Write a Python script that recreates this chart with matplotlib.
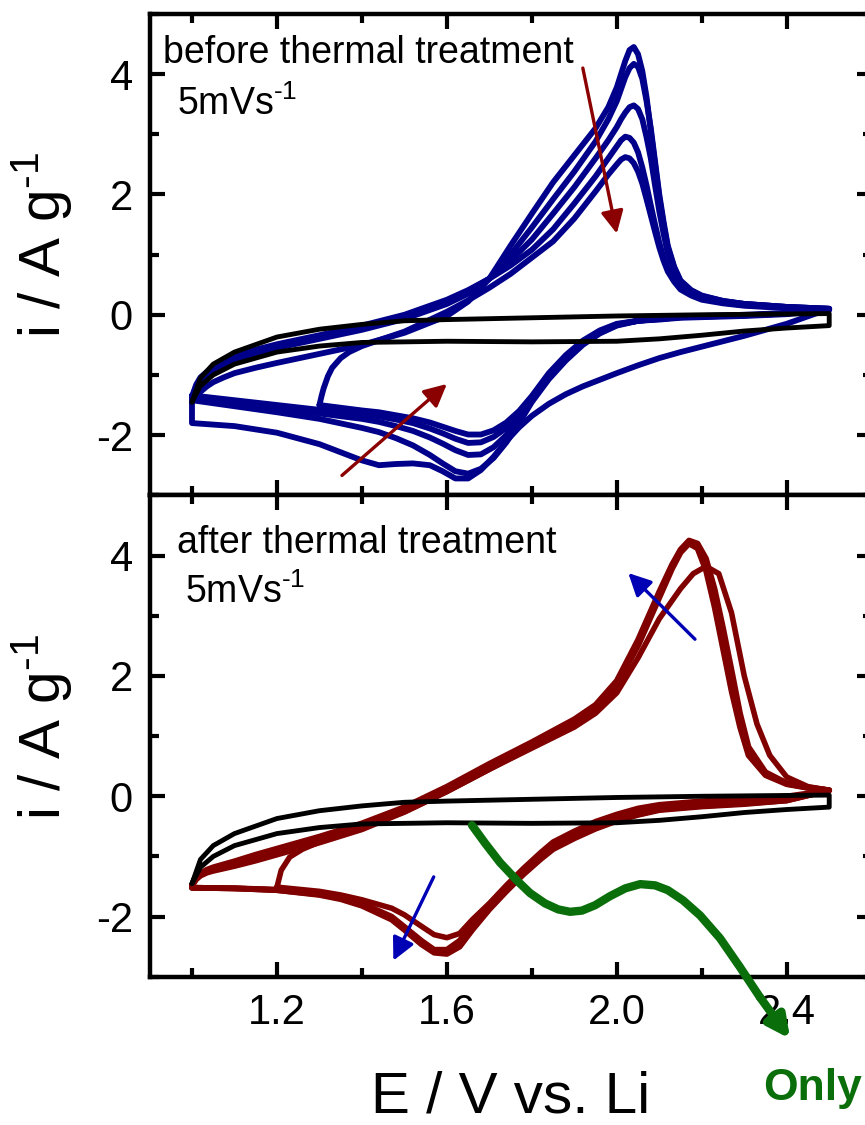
import matplotlib
matplotlib.use("Agg")
import matplotlib.pyplot as plt
from matplotlib.ticker import MultipleLocator

plt.rcParams['font.family'] = ['Liberation Sans', 'DejaVu Sans']
plt.rcParams['mathtext.fontset'] = 'custom'
plt.rcParams['mathtext.rm'] = 'Liberation Sans'
plt.rcParams['mathtext.default'] = 'regular'
plt.rcParams['axes.unicode_minus'] = False

BLUE = '#00008b'
RED = '#800000'
GREEN = '#0a6e0a'

# ---- top panel: before thermal treatment (5 cycles, A..E) ----
xa_low = [1.0, 1.01, 1.02, 1.035, 1.05, 1.075, 1.1, 1.15, 1.2, 1.3, 1.4, 1.5, 1.6, 1.65,
          1.7, 1.75, 1.8, 1.85, 1.9]
xa_peak = [1.95, 1.98, 2.0, 2.01, 2.02, 2.03, 2.04, 2.05, 2.06, 2.07, 2.08, 2.09, 2.1, 2.11,
           2.12, 2.135, 2.15, 2.175, 2.2, 2.25, 2.3, 2.4, 2.5]
xa_top = xa_low + xa_peak
xc_top = [2.5, 2.4, 2.3, 2.2, 2.15, 2.1, 2.05, 2.0, 1.96, 1.92, 1.88, 1.84, 1.8, 1.77, 1.74,
          1.71, 1.68, 1.65, 1.62, 1.59, 1.56, 1.52, 1.48, 1.44, 1.4, 1.3, 1.2, 1.1, 1.0]

A_an = [-1.45, -1.35, -1.28, -1.19, -1.12, -1.04, -0.97, -0.88, -0.8, -0.65, -0.5, -0.3, -0.02,
        0.22, 0.6, 1.15, 1.68, 2.2, 2.65,
        3.1, 3.45, 3.78, 4.0, 4.22, 4.4, 4.45, 4.33, 4.05, 3.62, 3.05, 2.5, 1.95, 1.5,
        1.12, 0.78, 0.55, 0.4, 0.31, 0.23, 0.18, 0.13, 0.1]
B_an = [-1.4, -1.22, -1.1, -1.01, -0.95, -0.85, -0.76, -0.64, -0.55, -0.4, -0.25, -0.07, 0.18,
        0.35, 0.6, 1.0, 1.45, 1.92, 2.38,
        2.88, 3.25, 3.55, 3.75, 3.95, 4.1, 4.17, 4.12, 3.92, 3.55, 3.1, 2.55, 2.0, 1.55,
        1.15, 0.8, 0.57, 0.41, 0.32, 0.23, 0.18, 0.13, 0.1]
C_an = [-1.38, -1.19, -1.07, -0.98, -0.92, -0.82, -0.73, -0.61, -0.52, -0.37, -0.21, -0.03, 0.22,
        0.39, 0.6, 0.9, 1.25, 1.68, 2.12,
        2.6, 2.9, 3.12, 3.25, 3.36, 3.45, 3.48, 3.42, 3.25, 2.95, 2.6, 2.15, 1.72, 1.35,
        1.02, 0.73, 0.53, 0.39, 0.3, 0.22, 0.18, 0.13, 0.1]
D_an = [-1.36, -1.16, -1.04, -0.95, -0.89, -0.79, -0.7, -0.58, -0.49, -0.34, -0.18, 0.0, 0.25,
        0.41, 0.6, 0.82, 1.08, 1.42, 1.85,
        2.3, 2.6, 2.8, 2.9, 2.96, 2.94, 2.86, 2.7, 2.45, 2.15, 1.82, 1.5, 1.2, 0.95,
        0.78, 0.58, 0.45, 0.34, 0.27, 0.2, 0.16, 0.12, 0.09]
E_an_x = [1.3, 1.305, 1.31, 1.32, 1.33, 1.35, 1.37, 1.4, 1.45, 1.5, 1.6, 1.65, 1.7, 1.75,
          1.8, 1.85, 1.9] + xa_peak
E_an = [-1.5, -1.35, -1.22, -1.02, -0.88, -0.72, -0.62, -0.52, -0.4, -0.28, 0.05, 0.24, 0.45,
        0.68, 0.95, 1.22, 1.6,
        2.05, 2.33, 2.5, 2.58, 2.62, 2.6, 2.52, 2.38, 2.18, 1.92, 1.65, 1.38, 1.12, 0.9,
        0.72, 0.55, 0.42, 0.32, 0.25, 0.19, 0.15, 0.11, 0.08]

A_cat = [0.1, -0.15, -0.35, -0.53, -0.62, -0.72, -0.84, -0.97, -1.08, -1.19, -1.32, -1.48, -1.68,
         -1.87, -2.1, -2.36, -2.58, -2.72, -2.72, -2.6, -2.5, -2.47, -2.48, -2.5, -2.42, -2.15,
         -1.96, -1.85, -1.8]
B_cat = [0.1, 0.03, 0.0, -0.02, -0.03, -0.06, -0.1, -0.18, -0.31, -0.5, -0.76, -1.07, -1.45,
         -1.8, -2.12, -2.38, -2.56, -2.64, -2.6, -2.47, -2.33, -2.17, -2.05, -1.95, -1.88, -1.73,
         -1.62, -1.52, -1.42]
C_cat = [0.1, 0.02, -0.01, -0.03, -0.04, -0.07, -0.1, -0.17, -0.3, -0.48, -0.73, -1.04, -1.43,
         -1.74, -2.0, -2.2, -2.32, -2.33, -2.25, -2.14, -2.04, -1.93, -1.85, -1.78, -1.73, -1.64,
         -1.55, -1.46, -1.38]
D_cat = [0.09, 0.02, -0.01, -0.03, -0.04, -0.07, -0.1, -0.16, -0.28, -0.46, -0.7, -1.0, -1.38,
         -1.66, -1.88, -2.03, -2.12, -2.13, -2.06, -1.97, -1.89, -1.8, -1.74, -1.69, -1.65, -1.58,
         -1.5, -1.42, -1.34]
E_cat_x = xc_top[:26]
E_cat = [0.08, 0.01, -0.02, -0.04, -0.05, -0.08, -0.1, -0.15, -0.26, -0.43, -0.67, -0.97, -1.35,
         -1.6, -1.79, -1.92, -1.99, -1.99, -1.93, -1.86, -1.79, -1.72, -1.67, -1.62, -1.59, -1.5]

# ---- electrolyte only (black) ----
blk_an_x = [1.0, 1.02, 1.05, 1.1, 1.2, 1.3, 1.4, 1.5, 1.6, 1.8, 2.0, 2.2, 2.5]
blk_an_y = [-1.45, -1.05, -0.82, -0.62, -0.37, -0.24, -0.16, -0.1, -0.08, -0.05, -0.02, 0.0, 0.02]
blk_cat_x = [2.5, 2.4, 2.3, 2.2, 2.1, 2.0, 1.8, 1.6, 1.4, 1.3, 1.2, 1.1, 1.05, 1.02, 1.0]
blk_cat_y = [-0.18, -0.22, -0.27, -0.34, -0.4, -0.44, -0.45, -0.44, -0.46, -0.52, -0.62,
             -0.82, -1.0, -1.18, -1.45]

# ---- bottom panel: after thermal treatment (R1 first cycle, R2..R4) ----
xa_bot = [1.0, 1.01, 1.02, 1.035, 1.05, 1.075, 1.1, 1.15, 1.2, 1.3, 1.4, 1.5, 1.6, 1.7, 1.8,
          1.9, 1.95, 2.0, 2.05, 2.1, 2.13, 2.15, 2.17, 2.19, 2.21, 2.23, 2.25, 2.27, 2.29,
          2.31, 2.35, 2.4, 2.45, 2.5]
xc_bot = [2.5, 2.4, 2.3, 2.2, 2.1, 2.05, 2.0, 1.95, 1.9, 1.85, 1.82, 1.78, 1.74, 1.7, 1.66,
          1.63, 1.6, 1.57, 1.54, 1.5, 1.47, 1.4, 1.35, 1.3, 1.2, 1.1, 1.0]

R2_an = [-1.48, -1.38, -1.32, -1.27, -1.24, -1.2, -1.16, -1.07, -0.97, -0.77, -0.55, -0.26, 0.08,
         0.45, 0.82, 1.2, 1.45, 1.85, 2.5, 3.3, 3.78, 4.05, 4.2, 4.12, 3.75, 3.15, 2.45, 1.75,
         1.15, 0.68, 0.35, 0.2, 0.14, 0.1]
R3_an = [-1.48, -1.37, -1.3, -1.25, -1.21, -1.16, -1.12, -1.02, -0.92, -0.72, -0.5, -0.22, 0.12,
         0.5, 0.87, 1.25, 1.5, 1.9, 2.55, 3.35, 3.82, 4.08, 4.22, 4.15, 3.85, 3.3, 2.62, 1.9,
         1.25, 0.75, 0.38, 0.21, 0.14, 0.1]
R4_an = [-1.48, -1.36, -1.28, -1.22, -1.18, -1.13, -1.08, -0.97, -0.87, -0.67, -0.45, -0.18, 0.16,
         0.54, 0.9, 1.28, 1.52, 1.92, 2.6, 3.4, 3.85, 4.1, 4.25, 4.2, 3.95, 3.45, 2.8, 2.1,
         1.38, 0.82, 0.4, 0.22, 0.15, 0.1]
R1_an_x = [1.2, 1.21, 1.23, 1.26, 1.3, 1.35, 1.4, 1.5, 1.6, 1.7, 1.8, 1.9, 1.95, 2.0, 2.05,
           2.1, 2.15, 2.18, 2.21, 2.24, 2.27, 2.3, 2.33, 2.36, 2.4, 2.45, 2.5]
R1_an = [-1.51, -1.23, -1.01, -0.88, -0.76, -0.62, -0.52, -0.26, 0.08, 0.45, 0.8, 1.15, 1.38,
         1.72, 2.3, 2.95, 3.45, 3.7, 3.82, 3.7, 3.05, 2.0, 1.2, 0.68, 0.32, 0.16, 0.1]

R2_cat = [0.1, -0.06, -0.11, -0.15, -0.21, -0.28, -0.38, -0.5, -0.66, -0.84, -1.0, -1.25, -1.52,
          -1.8, -2.12, -2.4, -2.55, -2.55, -2.4, -2.17, -2.0, -1.78, -1.68, -1.62, -1.55, -1.53, -1.52]
R3_cat = [0.1, -0.07, -0.12, -0.16, -0.22, -0.3, -0.4, -0.52, -0.68, -0.86, -1.03, -1.28, -1.56,
          -1.86, -2.2, -2.48, -2.6, -2.58, -2.44, -2.2, -2.03, -1.8, -1.7, -1.63, -1.56, -1.53, -1.52]
R4_cat = [0.1, -0.07, -0.13, -0.17, -0.23, -0.31, -0.41, -0.54, -0.7, -0.88, -1.05, -1.3, -1.58,
          -1.88, -2.22, -2.5, -2.62, -2.6, -2.46, -2.22, -2.05, -1.82, -1.71, -1.64, -1.56, -1.53, -1.52]
R1_cat_x = xc_bot[:25]
R1_cat = [0.1, 0.0, -0.04, -0.08, -0.14, -0.2, -0.3, -0.42, -0.58, -0.76, -0.94, -1.2, -1.48,
          -1.78, -2.05, -2.28, -2.35, -2.3, -2.16, -1.97, -1.86, -1.72, -1.64, -1.58, -1.51]

# green pointer path (bottom panel data coords)
green_x = [1.659, 1.690, 1.725, 1.765, 1.796, 1.831, 1.862, 1.890, 1.918, 1.949, 1.984, 2.020,
           2.055, 2.090, 2.120, 2.156, 2.196, 2.243, 2.290, 2.337]
green_y = [-0.48, -0.78, -1.10, -1.40, -1.61, -1.78, -1.88, -1.92, -1.90, -1.81, -1.66, -1.53,
           -1.46, -1.48, -1.56, -1.73, -1.98, -2.36, -2.84, -3.34]
green_tip = (2.408, -4.03)


def loop(ax, xa, ya, xc, yc, color, lw, z):
    x = list(xa) + list(xc) + [xa[0]]
    y = list(ya) + list(yc) + [ya[0]]
    ax.plot(x, y, color=color, lw=lw, zorder=z, solid_joinstyle='round',
            solid_capstyle='round')


fig = plt.figure(figsize=(8.65, 11.25), dpi=100)
W, H = 865.0, 1125.0
ax1 = fig.add_axes([149.5 / W, 1 - 495.3 / H, 722.2 / W, 481.4 / H])
ax2 = fig.add_axes([149.5 / W, 1 - 976.8 / H, 722.2 / W, 481.4 / H])

for ya, yc in [(A_an, A_cat), (B_an, B_cat), (C_an, C_cat), (D_an, D_cat)]:
    loop(ax1, xa_top, ya, xc_top, yc, BLUE, 4.2, 2)
loop(ax1, E_an_x, E_an, E_cat_x, E_cat, BLUE, 4.2, 2)

for ya, yc in [(R2_an, R2_cat), (R3_an, R3_cat), (R4_an, R4_cat)]:
    loop(ax2, xa_bot, ya, xc_bot, yc, RED, 4.2, 2)
loop(ax2, R1_an_x, R1_an, R1_cat_x, R1_cat, RED, 4.0, 2)

for ax in (ax1, ax2):
    loop(ax, blk_an_x, blk_an_y, blk_cat_x, blk_cat_y, 'black', 3.5, 3)
    ax.set_xlim(0.9, 2.6)
    ax.set_ylim(-3, 5)
    ax.xaxis.set_major_locator(MultipleLocator(0.4))
    ax.xaxis.set_minor_locator(MultipleLocator(0.2))
    ax.yaxis.set_major_locator(MultipleLocator(2))
    ax.yaxis.set_minor_locator(MultipleLocator(1))
    ax.tick_params(which='both', direction='in', top=True, right=True, width=3,
                   labelsize=30, pad=12)
    ax.tick_params(which='major', length=11)
    ax.tick_params(which='minor', length=6.5)
    for s in ax.spines.values():
        s.set_linewidth(3.2)
    ax.set_ylabel('i / A g$^{\u2010 1}$', fontsize=42)
    ax.yaxis.set_label_coords(-0.105, 0.52)

ax1.tick_params(labelbottom=False)
ax2.set_xlabel('E / V vs. Li', fontsize=42, labelpad=27)

ax1.text(0.019, 0.898, 'before thermal treatment', transform=ax1.transAxes, fontsize=27,
         va='baseline')
ax1.text(0.038, 0.79, '5mVs$^{\u20101}$', transform=ax1.transAxes, fontsize=27, va='baseline')
ax2.text(0.038, 0.881, 'after thermal treatment', transform=ax2.transAxes, fontsize=27,
         va='baseline')
ax2.text(0.049, 0.777, '5mVs$^{\u20101}$', transform=ax2.transAxes, fontsize=27, va='baseline')

arr = dict(arrowstyle='-|>', lw=2.4, mutation_scale=34, shrinkA=0, shrinkB=0)
ax1.annotate('', xy=(2.0, 1.35), xytext=(1.92, 4.1), arrowprops=dict(arr, color='#8b0000'))
ax1.annotate('', xy=(1.6, -1.15), xytext=(1.353, -2.67), arrowprops=dict(arr, color='#8b0000'))
ax2.annotate('', xy=(2.027, 3.71), xytext=(2.184, 2.61), arrowprops=dict(arr, color='#0000b4'))
ax2.annotate('', xy=(1.474, -2.73), xytext=(1.569, -1.34), arrowprops=dict(arr, color='#0000b4'))

ax2.plot(green_x, green_y, color=GREEN, lw=6, zorder=5, clip_on=False,
         solid_joinstyle='round', solid_capstyle='round')
ax2.annotate('', xy=green_tip, xytext=(green_x[-1], green_y[-1]), annotation_clip=False,
             arrowprops=dict(arrowstyle='-|>', lw=6, color=GREEN, mutation_scale=32,
                             shrinkA=0, shrinkB=0), zorder=5)
fig.text(763 / W, 1 - 1100 / H, 'Only', color=GREEN, fontsize=32, fontweight='bold',
         va='baseline', ha='left')

fig.savefig('out.png', dpi=100)
